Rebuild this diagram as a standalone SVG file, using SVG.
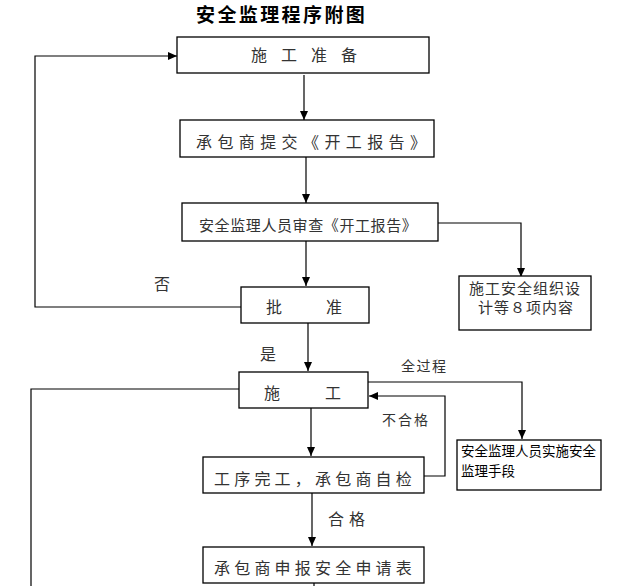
<svg xmlns="http://www.w3.org/2000/svg" width="621" height="586" viewBox="0 0 621 586">
<style>
.box{fill:#fff;stroke:#000;stroke-width:1.3}
.ln{fill:none;stroke:#000;stroke-width:1.2}
.t{font-family:"Noto Sans CJK SC","Noto Sans",sans-serif;fill:#333;font-size:16px}
.k{font-family:"Noto Sans CJK SC",sans-serif;fill:#000;font-size:13.5px}
.title{font-family:"Noto Sans CJK SC",sans-serif;font-weight:bold;font-size:19px;fill:#000;letter-spacing:2.4px}
</style>
<defs>
<marker id="a" markerWidth="10" markerHeight="8" refX="9" refY="4" orient="auto" markerUnits="userSpaceOnUse">
<path d="M0,0 L9,4 L0,8 Z" fill="#000"/>
</marker>
</defs>
<rect width="621" height="586" fill="#fff"/>
<text class="title" x="196" y="22">安全监理程序附图</text>

<g id="connectors">
<path class="ln" d="M304,75 V120" marker-end="url(#a)"/>
<path class="ln" d="M306,157 V203" marker-end="url(#a)"/>
<path class="ln" d="M438,223 H521 V277" marker-end="url(#a)"/>
<path class="ln" d="M306,241 V286" marker-end="url(#a)"/>
<path class="ln" d="M241,307 H35 V56 H177" marker-end="url(#a)"/>
<path class="ln" d="M308,323 V371" marker-end="url(#a)"/>
<path class="ln" d="M368,382 H522 V439" marker-end="url(#a)"/>
<path class="ln" d="M239,389 H31 V586"/>
<path class="ln" d="M311,408 V456" marker-end="url(#a)"/>
<path class="ln" d="M424,476 H445 V396 H369" marker-end="url(#a)"/>
<path class="ln" d="M312,493 V546" marker-end="url(#a)"/>
<path class="ln" d="M314,583 V586"/>
<text class="t" x="154" y="290" font-size="15">否</text>
<text class="t" x="260" y="360">是</text>
<text class="t" x="401" y="371" style="font-size:14px;letter-spacing:1.5px">全过程</text>
<text class="t" x="382" y="425" style="font-size:14px;letter-spacing:2px">不合格</text>
<text class="t" x="328" y="525" style="letter-spacing:5px">合格</text>
</g>

<g id="n1">
<rect class="box" x="177" y="37" width="252" height="36"/>
<text class="t" x="251" y="61" style="letter-spacing:14px">施工准备</text>
</g>
<g id="n2">
<rect class="box" x="180" y="120" width="254" height="37"/>
<text class="t" x="196" y="148" style="letter-spacing:5.4px">承包商提交《开工报告》</text>
</g>
<g id="n3">
<rect class="box" x="182" y="203" width="256" height="38"/>
<text class="t" x="199" y="231" style="font-size:15px;letter-spacing:0.6px">安全监理人员审查《开工报告》</text>
</g>
<g id="n4">
<rect class="box" x="459" y="276" width="132" height="54"/>
<text class="t" x="469" y="294" style="font-size:15px;letter-spacing:1px">施工安全组织设</text>
<text class="t" x="478" y="313" style="font-size:15px;letter-spacing:1px">计等８项内容</text>
</g>
<g id="n5">
<rect class="box" x="241" y="287" width="128" height="36"/>
<text class="t" x="266" y="313">批</text>
<text class="t" x="326" y="313">准</text>
</g>
<g id="n6">
<rect class="box" x="239" y="372" width="129" height="36"/>
<text class="t" x="264" y="399">施</text>
<text class="t" x="325" y="399">工</text>
</g>
<g id="n7">
<rect class="box" x="457" y="440" width="144" height="50"/>
<text class="k" x="461" y="456">安全监理人员实施安全</text>
<text class="k" x="461" y="476">监理手段</text>
</g>
<g id="n8">
<rect class="box" x="203" y="457" width="221" height="36"/>
<text class="t" x="214" y="485" style="letter-spacing:4.2px">工序完工，承包商自检</text>
</g>
<g id="n9">
<rect class="box" x="203" y="547" width="221" height="36"/>
<text class="t" x="214" y="574" style="letter-spacing:4.2px">承包商申报安全申请表</text>
</g>
</svg>
